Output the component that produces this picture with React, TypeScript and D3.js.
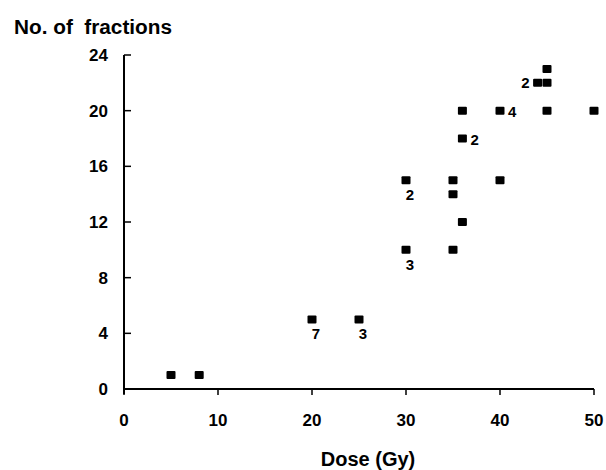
import React from "react";
import * as d3 from "d3";

const doses = [5, 8, 20, 25, 30, 30, 35, 35, 35, 36, 36, 36, 40, 40, 44, 45, 45, 45, 50];
const fractions = [1, 1, 5, 5, 15, 10, 15, 14, 10, 20, 18, 12, 20, 15, 22, 22, 23, 20, 20];

const labelDoses = [20, 25, 30, 30, 36, 40, 44];
const labelFractions = [5, 5, 10, 15, 18, 20, 22];
const labelTexts = ["7", "3", "3", "2", "2", "4", "2"];
const labelSides = ["below", "below", "below", "below", "right", "right", "left"];

const xTicks = [0, 10, 20, 30, 40, 50];
const yTicks = [0, 4, 8, 12, 16, 20, 24];

const W = 606;
const H = 470;
const FONT = "'Liberation Sans', Arial, Helvetica, sans-serif";

export default function App() {
  const x = d3.scaleLinear().domain([0, 50]).range([124, 594]);
  const y = d3.scaleLinear().domain([0, 24]).range([389, 55]);

  const offsets: Record<string, { dx: number; dy: number; anchor: string }> = {
    below: { dx: 4, dy: 20, anchor: "middle" },
    right: { dx: 8, dy: 6, anchor: "start" },
    left: { dx: -8, dy: 5, anchor: "end" },
  };

  return (
    <svg
      width={W}
      height={H}
      style={{ position: "absolute", left: 0, top: 0, background: "#fff" }}
      fontFamily={FONT}
      fontWeight="bold"
    >
      <rect x={0} y={0} width={W} height={H} fill="#fff" />
      <text x={14} y={34} fontSize={20} fill="#000" xmlSpace="preserve" textLength={158} lengthAdjust="spacingAndGlyphs">
        No. of  fractions
      </text>
      {/* axes */}
      <line x1={x(0)} x2={x(0)} y1={y(24)} y2={y(0) + 5} stroke="#000" strokeWidth={2} />
      <line x1={x(0)} x2={x(50)} y1={y(0)} y2={y(0)} stroke="#000" strokeWidth={2} />
      {yTicks.map((t) => (
        <g key={"y" + t}>
          <line x1={x(0)} x2={x(0) + 7} y1={y(t)} y2={y(t)} stroke="#000" strokeWidth={1.5} />
          <text x={108} y={y(t) + 6} fontSize={17} textAnchor="end" fill="#000">
            {t}
          </text>
        </g>
      ))}
      {xTicks.map((t) => (
        <g key={"x" + t}>
          <line x1={x(t)} x2={x(t)} y1={y(0)} y2={y(0) + 6} stroke="#000" strokeWidth={1.5} />
          <text x={x(t)} y={426} fontSize={17} textAnchor="middle" fill="#000">
            {t}
          </text>
        </g>
      ))}
      <text x={368} y={466} fontSize={20} textAnchor="middle" fill="#000">
        Dose (Gy)
      </text>
      {doses.map((d, i) => (
        <rect
          key={"p" + i}
          x={x(d) - 4.5}
          y={y(fractions[i]) - 4}
          width={9}
          height={8}
          rx={1}
          fill="#000"
        />
      ))}
      {labelTexts.map((t, i) => {
        const o = offsets[labelSides[i]];
        return (
          <text
            key={"l" + i}
            x={x(labelDoses[i]) + o.dx}
            y={y(labelFractions[i]) + o.dy}
            fontSize={15}
            textAnchor={o.anchor}
            fill="#000"
          >
            {t}
          </text>
        );
      })}
    </svg>
  );
}
